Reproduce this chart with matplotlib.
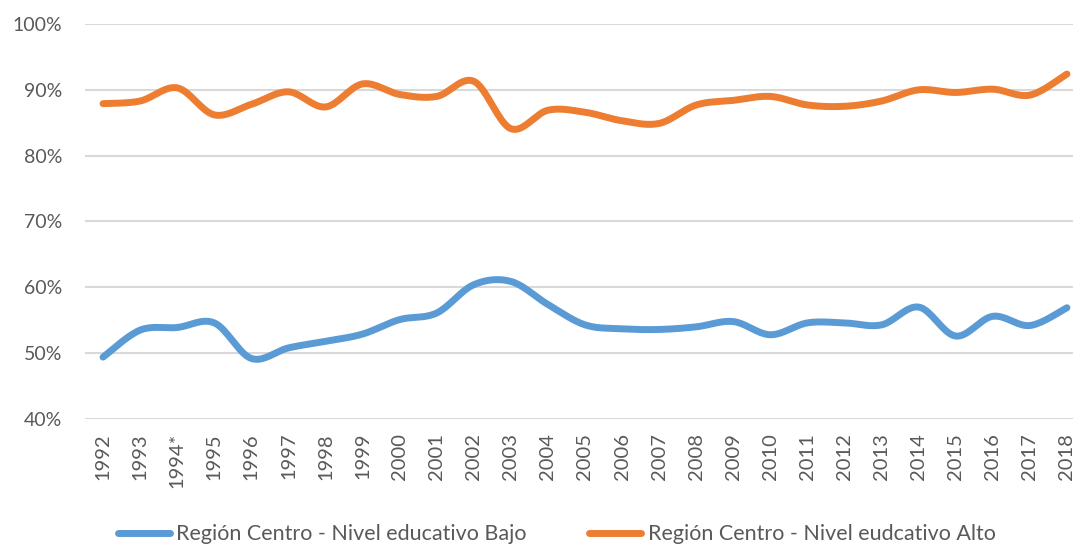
import numpy as np
import matplotlib.pyplot as plt

plt.rcParams['font.family'] = ['Lato', 'DejaVu Sans']

years = ["1992", "1993", "1994*", "1995", "1996", "1997", "1998", "1999", "2000",
         "2001", "2002", "2003", "2004", "2005", "2006", "2007", "2008", "2009",
         "2010", "2011", "2012", "2013", "2014", "2015", "2016", "2017", "2018"]

bajo = [49.4, 53.5, 53.9, 54.6, 49.2, 50.8, 51.8, 52.9, 55.1, 56.1, 60.4, 60.9, 57.4,
        54.3, 53.7, 53.6, 54.0, 54.8, 52.8, 54.6, 54.6, 54.3, 57.0, 52.6, 55.6, 54.2, 56.9]

alto = [87.9, 88.3, 90.3, 86.2, 87.8, 89.7, 87.4, 90.9, 89.3, 89.0, 91.3, 84.1, 86.9,
        86.6, 85.3, 84.9, 87.7, 88.4, 89.0, 87.7, 87.5, 88.3, 90.0, 89.6, 90.1, 89.2, 92.4]

label_bajo = "Región Centro - Nivel educativo Bajo"
label_alto = "Región Centro - Nivel eudcativo Alto"


def smooth(y, n=20):
    # bezier curve like the excel "smoothed line" option
    x = np.arange(len(y), dtype=float)
    y = np.asarray(y, dtype=float)
    px = np.concatenate([[x[0]], x, [x[-1]]])
    py = np.concatenate([[y[0]], y, [y[-1]]])
    t = np.linspace(0, 1, n)[:, None]
    xs, ys = [], []
    for i in range(len(y) - 1):
        p0 = np.array([x[i], y[i]])
        p3 = np.array([x[i + 1], y[i + 1]])
        p1 = p0 + (np.array([px[i + 2], py[i + 2]]) - np.array([px[i], py[i]])) / 6
        p2 = p3 - (np.array([px[i + 3], py[i + 3]]) - np.array([px[i + 1], py[i + 1]])) / 6
        c = (1 - t) ** 3 * p0 + 3 * (1 - t) ** 2 * t * p1 + 3 * (1 - t) * t ** 2 * p2 + t ** 3 * p3
        xs.append(c[:, 0])
        ys.append(c[:, 1])
    return np.concatenate(xs), np.concatenate(ys)


fig = plt.figure(figsize=(10.73, 5.45), dpi=100)
ax = fig.add_axes([84.5 / 1073, 126 / 545, 1001 / 1073, 395 / 545])

xb, yb = smooth(bajo)
xa, ya = smooth(alto)
ax.plot(xb, yb, color="#5B9BD5", lw=5, solid_capstyle="round", label=label_bajo)
ax.plot(xa, ya, color="#ED7D31", lw=5, solid_capstyle="round", label=label_alto)

ax.set_xlim(-0.5, len(years) - 0.5)
ax.set_ylim(40, 100)
ax.set_yticks(np.arange(40, 101, 10))
ax.set_yticklabels([f"{v}%" for v in range(40, 101, 10)])
ax.set_xticks(np.arange(len(years)))
ax.set_xticklabels(years, rotation=90)
ax.tick_params(axis="both", length=0, labelsize=14, colors="#595959")
ax.tick_params(axis="y", pad=16)
ax.tick_params(axis="x", labelsize=14.5, pad=10)
ax.grid(axis="y", color="#d9d9d9", lw=1.5)
ax.set_axisbelow(True)
for s in ax.spines.values():
    s.set_visible(False)

fig.legend(loc="center", bbox_to_anchor=(0.519, 0.02), ncol=2, frameon=False,
           fontsize=15.5, handlelength=2.4, handletextpad=0.3, columnspacing=2.9,
           labelcolor="#595959")

fig.savefig("out.png", dpi=100)
